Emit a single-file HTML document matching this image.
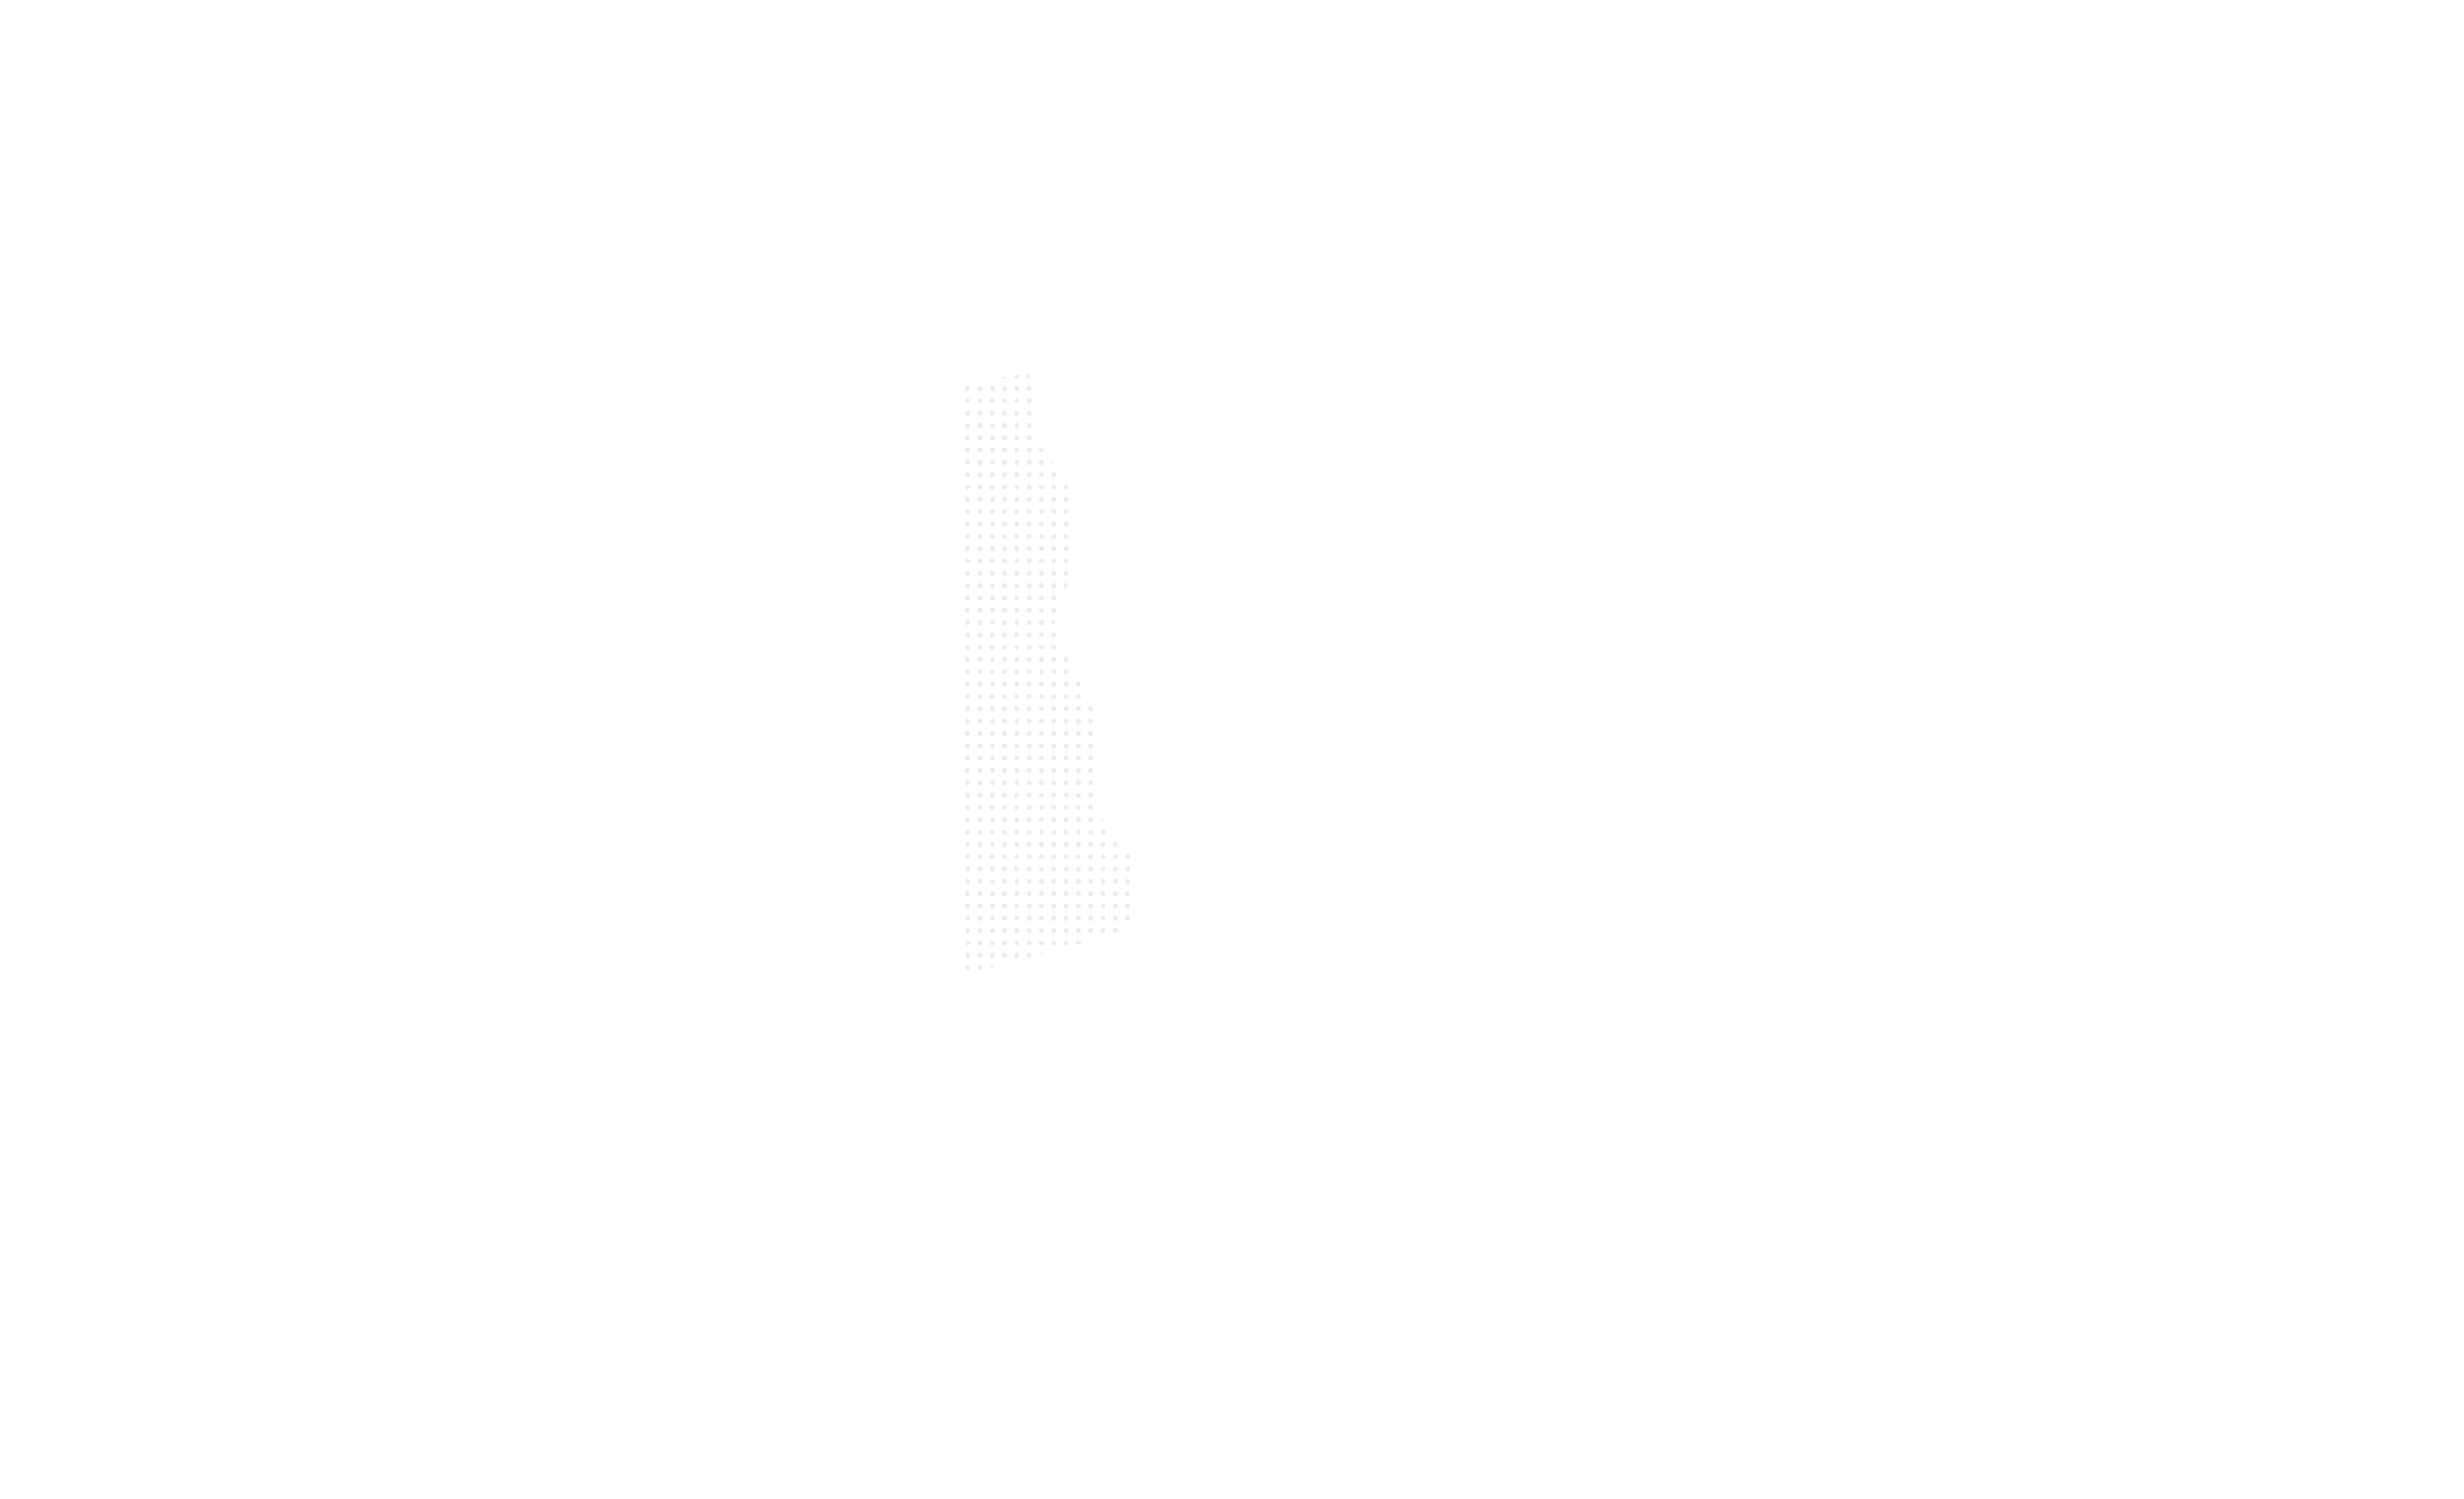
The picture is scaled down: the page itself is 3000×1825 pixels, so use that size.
<!DOCTYPE html>
<html><head><style>html,body{margin:0;padding:0;background:#fff;width:3000px;height:1825px;overflow:hidden}</style></head>
<body>
<svg width="3000" height="1825" xmlns="http://www.w3.org/2000/svg">
<defs>
<pattern id="d" patternUnits="userSpaceOnUse" x="1170.5" y="465.5" width="15" height="15">
<circle cx="7.5" cy="7.5" r="3" fill="#ececec"/>
</pattern>
</defs>
<polygon points="1173,469 1253,453 1263,536 1301,593 1301,708 1282,765 1339,880 1339,995 1377,1043 1377,1129 1320,1148 1176,1186" fill="url(#d)"/>
</svg>
</body></html>
